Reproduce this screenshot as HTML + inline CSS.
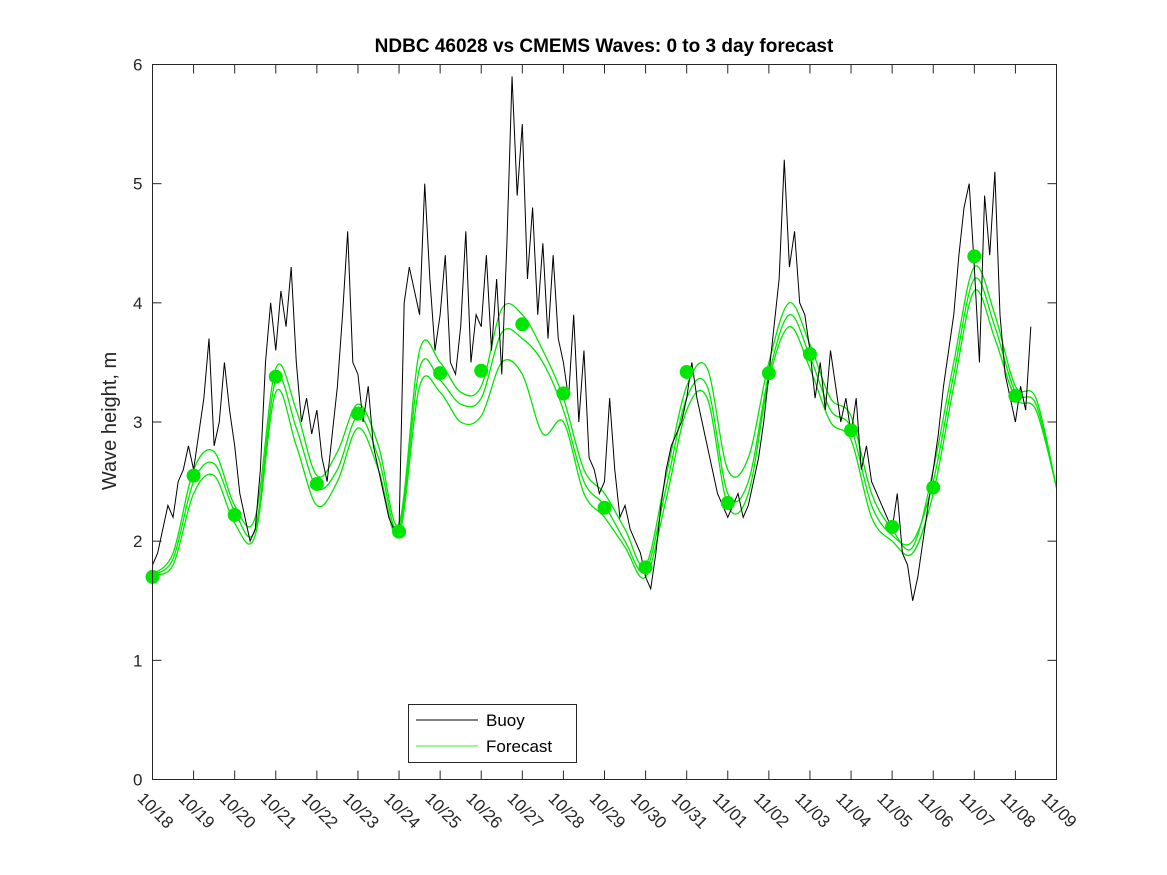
<!DOCTYPE html>
<html><head><meta charset="utf-8"><style>
body{margin:0;background:#fff;}
svg{display:block;font-family:"Liberation Sans",sans-serif;}
</style></head><body>
<svg id="chart" width="1167" height="875">
<rect width="1167" height="875" fill="#fff"/>
<text x="604" y="52" text-anchor="middle" font-size="19" font-weight="bold" fill="#000">NDBC 46028 vs CMEMS Waves: 0 to 3 day forecast</text>
<text transform="translate(116,421) rotate(-90)" text-anchor="middle" font-size="20" fill="#262626">Wave height, m</text>
<g id="ticks"></g>
<g id="series"></g>
<rect x="152.5" y="64.5" width="904" height="715" fill="none" stroke="#262626" stroke-width="1"/>
<g>
<rect x="408.5" y="704.5" width="168" height="58" fill="#fff" stroke="#262626"/>
<line x1="416" y1="720" x2="478" y2="720" stroke="#000"/>
<text x="486" y="726" font-size="17" fill="#000">Buoy</text>
<line x1="416" y1="746" x2="478" y2="746" stroke="#00e000" stroke-width="0.8"/>
<text x="486" y="752" font-size="17" fill="#000">Forecast</text>
</g>
</svg>
<script>
const xTickLabels=["10/18","10/19","10/20","10/21","10/22","10/23","10/24","10/25","10/26","10/27","10/28","10/29","10/30","10/31","11/01","11/02","11/03","11/04","11/05","11/06","11/07","11/08","11/09"];
const yTicks=[0,1,2,3,4,5,6];
// buoy, 3-hourly from 10/18
const buoy=[
1.8,1.9,2.1,2.3,2.2,2.5,2.6,2.8,
2.6,2.9,3.2,3.7,2.8,3.0,3.5,3.1,
2.8,2.4,2.2,2.0,2.1,2.6,3.5,4.0,
3.6,4.1,3.8,4.3,3.5,3.0,3.2,2.9,
3.1,2.7,2.5,2.9,3.3,3.9,4.6,3.5,
3.4,3.0,3.3,2.8,2.6,2.4,2.2,2.1,
2.1,4.0,4.3,4.1,3.9,5.0,4.2,3.6,
3.9,4.4,3.5,3.4,3.8,4.6,3.5,3.9,
3.8,4.4,3.6,4.2,3.4,4.5,5.9,4.9,
5.5,4.2,4.8,3.9,4.5,3.7,4.4,3.7,
3.5,3.2,3.9,3.0,3.6,2.7,2.6,2.4,
2.5,3.2,2.6,2.2,2.3,2.1,2.0,1.9,
1.7,1.6,1.9,2.3,2.6,2.8,2.9,3.0,
3.2,3.5,3.2,3.0,2.8,2.6,2.4,2.3,
2.2,2.3,2.4,2.2,2.3,2.5,2.7,3.0,
3.4,3.8,4.2,5.2,4.3,4.6,4.0,3.9,
3.6,3.2,3.5,3.1,3.6,3.3,3.0,3.2,
2.9,3.2,2.6,2.8,2.5,2.4,2.3,2.2,
2.1,2.4,1.9,1.8,1.5,1.7,2.0,2.3,
2.6,2.9,3.3,3.6,3.9,4.4,4.8,5.0,
4.3,3.5,4.9,4.4,5.1,3.9,3.4,3.2,
3.0,3.3,3.1,3.8];
// forecasts, 12-hourly from 10/18
const fcA=[1.72,1.85,2.5,2.65,2.25,2.1,3.35,2.95,2.45,2.6,3.05,2.7,2.1,3.45,3.35,3.15,3.2,3.75,3.7,3.5,3.1,2.5,2.3,2.0,1.75,2.45,3.2,3.3,2.4,2.5,3.4,3.9,3.55,3.1,2.95,2.3,2.05,2.0,2.5,3.4,4.2,3.8,3.25,3.15,2.45];
const fcB=[1.72,1.9,2.6,2.75,2.3,2.2,3.45,3.1,2.55,2.75,3.15,2.8,2.15,3.6,3.5,3.25,3.3,3.95,3.9,3.6,3.2,2.6,2.4,2.1,1.8,2.55,3.3,3.45,2.6,2.7,3.5,4.0,3.65,3.2,3.05,2.4,2.1,1.95,2.6,3.5,4.3,3.9,3.3,3.2,2.45];
const fcC=[1.72,1.8,2.4,2.55,2.15,2.05,3.25,2.8,2.3,2.5,2.95,2.6,2.05,3.3,3.25,3.0,3.05,3.5,3.4,2.9,3.0,2.4,2.2,1.95,1.7,2.35,3.1,3.2,2.3,2.4,3.35,3.8,3.45,3.0,2.85,2.2,2.0,1.9,2.4,3.3,4.1,3.7,3.2,3.1,2.45];
const dots=[1.7,2.55,2.22,3.38,2.48,3.07,2.08,3.41,3.43,3.82,3.24,2.28,1.78,3.42,2.32,3.41,3.57,2.93,2.12,2.45,4.39,3.22];

const X0=152.5,X1=1056.5,Y0=779.5,Y1=64.5,NS="http://www.w3.org/2000/svg";
const xs=d=>X0+(X1-X0)*d/22, ys=v=>Y0-(Y0-Y1)*v/6;
const tg=document.getElementById('ticks'), sg=document.getElementById('series');
function mk(t,a,p){const e=document.createElementNS(NS,t);for(const k in a)e.setAttribute(k,a[k]);p.appendChild(e);return e;}
xTickLabels.forEach((l,i)=>{const x=xs(i);
 const a=mk('line',{x1:x,y1:Y0,x2:x,y2:Y0-9,stroke:'#262626'},tg);
 
 
 const b=mk('line',{x1:x,y1:Y1,x2:x,y2:Y1+9,stroke:'#262626'},tg);
 
 
 const t=mk('text',{transform:`translate(${x-16},${Y0+20}) rotate(45)`,'font-size':17,fill:'#262626'},tg);t.textContent=l;
 
 
});
yTicks.forEach(v=>{const y=ys(v);
 const a=mk('line',{x1:X0,y1:y,x2:X0+9,y2:y,stroke:'#262626'},tg);
 
 
 const b=mk('line',{x1:X1,y1:y,x2:X1-9,y2:y,stroke:'#262626'},tg);
 
 
 const t=mk('text',{x:X0-10,y:y+6,'text-anchor':'end','font-size':17,fill:'#262626'},tg);t.textContent=v;
 
 
});
function smooth(pts){let d=`M${pts[0][0]},${pts[0][1]}`;for(let i=0;i<pts.length-1;i++){const p0=pts[i-1]||pts[i],p1=pts[i],p2=pts[i+1],p3=pts[i+2]||p2;
 d+=` C${p1[0]+(p2[0]-p0[0])/6},${p1[1]+(p2[1]-p0[1])/6} ${p2[0]-(p3[0]-p1[0])/6},${p2[1]-(p3[1]-p1[1])/6} ${p2[0]},${p2[1]}`;}return d;}
[fcA,fcB,fcC].forEach((s,k)=>{const pts=s.map((v,i)=>[xs(i*0.5),ys(v)]);
 const p=mk('path',{d:smooth(pts),fill:'none',stroke:'#00e600','stroke-width':1.3},sg);
 
 
});
const bp=mk('polyline',{points:buoy.map((v,i)=>`${xs(i/8)},${ys(v)}`).join(' '),fill:'none',stroke:'#000','stroke-width':1},sg);


dots.forEach((v,i)=>{const c=mk('circle',{cx:xs(i),cy:ys(v),r:7,fill:'#00e600'},sg);
 
 
});
</script>
</body></html>
